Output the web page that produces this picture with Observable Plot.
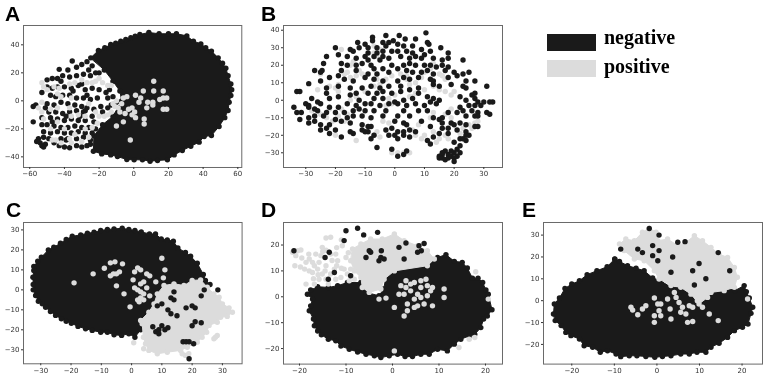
<!DOCTYPE html>
<html><head><meta charset="utf-8">
<script src="https://cdn.jsdelivr.net/npm/d3@7"></script>
<script src="https://cdn.jsdelivr.net/npm/@observablehq/plot@0.6"></script>
<style>
html,body{margin:0;padding:0;background:#fff}
#chart{position:relative;width:768px;height:380px;overflow:hidden;filter:blur(0.4px)}
#chart svg{position:absolute;background:none;overflow:visible}
.letter{position:absolute;font:bold 21px/1 "Liberation Sans",Arial,sans-serif;color:#000}
.legtext{position:absolute;font:bold 20px/1 "Liberation Serif","Times New Roman",serif;color:#000}
.swatch{position:absolute;left:547px;width:49px;height:17px}
</style></head><body><div id="chart"></div>
<script>
const negativeColor="#1a1a1a", positiveColor="#dcdcdc";
const legendLabels=["negative","positive"];
const panelLetters=["A","B","C","D","E"];

// ---------- A ----------
const aTicksX=[-60,-40,-20,0,20,40,60], aTicksY=[-40,-20,0,20,40];
const aBody=[[-24.8,30.7],[-20.4,36],[-16.7,37.9],[-13.3,40.2],[-10.4,41.2],[-7.5,42.6],[-4.6,43.8],[-1.7,45],[0.8,46.2],[3.5,47.4],[8.7,48.8],[14.6,47.9],[20,47.9],[24.6,47.9],[30.6,46.4],[34.4,42.6],[38.7,40.7],[41.5,37.9],[44.8,35.5],[48.7,30.7],[51.2,26.9],[53.1,23.3],[54.4,18],[56,12],[56.5,7.9],[56,3.8],[55,-1],[54.4,-6.9],[52.5,-12],[49.2,-18.3],[44.8,-24.8],[40.6,-25.5],[37.7,-29.5],[32.9,-32.4],[28,-35.5],[23.3,-38.6],[19.4,-42.1],[13.7,-42.6],[9.4,-43.1],[5,-42.1],[0.2,-42.1],[-4,-41.9],[-9.4,-39.8],[-13.3,-38.6],[-18.5,-37.9],[-23.3,-36],[-23,-25],[-18,-17],[-12,-11],[-7,0],[-8,7],[-12,14],[-17,22]];
const aNegative=[[-35.5,28.5],[-30,26],[-43,22.5],[-38,22],[-33,24],[-27,28],[-26,22],[-24,25],[-20,20],[-50,15],[-47,16],[-44,16],[-41,18],[-37,17],[-33,18],[-29,19],[-25,18],[-22,20],[-53,6],[-50,10],[-47,9],[-44,10],[-40,10],[-36,9],[-32,11],[-28,8],[-24,9],[-20,8],[-16,6],[-45,3],[-41,4],[-37,4],[-33,2],[-29,2],[-25,1],[-21,2],[-58,-4],[-56.5,-3],[-50,-2],[-46,-3],[-42,-1],[-38,-2],[-34,-3],[-30,-4],[-27,-5],[-23,-6],[-19,-4],[-13,-3],[-49,-8],[-45,-8],[-41,-9],[-37,-8],[-33,-7],[-29,-8],[-28,-7],[-24,-11],[-58,-15],[-53,-12],[-48,-12],[-44,-13],[-40,-14],[-36,-13],[-32,-14],[-28,-14],[-23,-15],[-53,-17],[-50,-17],[-46,-18],[-42,-19],[-38,-19],[-34,-18],[-30,-19],[-26,-19],[-22,-20],[-52,-22],[-48,-23],[-44,-22],[-40,-23],[-36,-23],[-32,-22],[-28,-23],[-24,-23],[-55,-27],[-52,-26],[-49,-27],[-42,-27],[-38,-27],[-33,-27],[-29,-26],[-25,-28],[-56,-29],[-54,-30],[-51,-31],[-53,-32],[-43,-32],[-40,-33],[-37,-33.5],[-33,-32],[-30,-33],[-27,-32],[-25,-31],[-52,-33],[-15,2],[-12,3],[-10,-1],[-15,-5],[-18,-8],[-14,8],[-48,4],[-51,-5],[-47,-15],[-39,-11],[-31,-11],[-35,7],[-27,4],[-30,12],[-42,14],[-39,-28],[-46,-30]];
const aPositive=[[-53,13],[-52,10],[-50,8],[-44,5],[-42,3],[-36,2],[-30,15],[-27,13],[-24,13],[-22,14],[-20,16],[-18,13],[-15,11],[-13,11],[-37,12],[-46,10],[-53,-1],[-55,-5],[-53,-8],[-52,-13],[-48,-6],[-44,-5],[-37,-5],[-36,-11],[-32,-10],[-28,-11],[-22,-8],[-20,-11],[-17,-11],[-15,-10],[-13,-8],[-11,-4],[-9,-5],[-7,-2],[-5,-9],[-3,-6],[-1,-5],[0.5,-8],[-1,-10],[1,-12],[-6,-15],[-10,-18],[-47,-28],[-45,-28],[-42,-30],[-36,-30],[-30,-29],[-26,-26],[-40,-20],[-34,-24],[-24,-19],[-21,-16],[-44,-15],[-26,-2],[11.5,14],[11.5,7],[17,7],[5.5,7],[4,2],[3,-1],[8,-1],[11,-1],[15,1],[17,2],[19,2],[11,-3],[17,-6],[19,-6],[7.5,-5],[6,-13],[6,-16.5],[-2,-28],[-6,2],[-4,3],[1,4],[-10,0],[-12,-2],[-8,-8],[-43,9],[-34,13],[-28,-20],[-37,-27],[-48,-20]];

// ---------- B ----------
const bTicksX=[-30,-20,-10,0,10,20,30], bTicksY=[-30,-20,-10,0,10,20,30,40];
const bBody=[];
const bPositive=[[-18,29],[-7,31],[-7,27],[-6,25],[-14,22],[-15,20],[-12,17],[-11,15],[-13,14],[-16,16],[-17,15],[-15,13],[-19,9],[-20,7],[-22,8],[-19,5],[-26,6],[-25,15],[-5,29],[-6,12],[-5,9],[-7,8],[-15,0],[-13,2],[-10,5],[-3,12],[-1,14],[2,15],[4,14],[4,12],[5,9],[7,10],[9,13],[10,16],[13,21],[12,18],[15,15],[16,14],[17,12],[13,8],[15,6],[17,5],[19,3],[20,5],[10,6],[7,4],[6,2],[5,2],[-2,1],[0,3],[-1,-2],[-3,-3],[-22,-5],[-25,-8],[-23,-10],[-21,-12],[-19,-9],[-18,-5],[-28,-6],[-17,-12],[-16,-8],[-20,-20],[-13,-23],[-7,-20],[-6,-18],[-5,-21],[-4,-12],[-2,-13],[6,-17],[7,-20],[9,-22],[8,-14],[13,-18],[10,-20],[12,-10],[13,-7],[17,-20],[18,-22],[15,-22],[19,-10],[17,-8],[19,-5],[25,-14],[27,-13],[26,-16],[28,-12],[23,-16],[-1,-30],[1,-30],[3,-30],[5,-30],[22,-19],[14,-24]];
const bNegative=[[10.5,38.5],[-7.5,36],[-7.5,34],[-3,37],[1.5,37],[-12.5,33],[3.5,35],[7,35],[-0.5,34],[-4,33],[-2,33],[11,33],[11.5,32],[-20,30],[-15,29],[-10,32],[-9,30],[-6,30],[-3,31],[1,32],[3,31],[6,31],[15.5,30],[-14,28],[-12,30],[-19,26],[-9,27],[-6,27],[-4,28],[-1,28],[1,28],[4,28],[6,27],[9,29],[12,28],[10,26],[18,27],[-10,25],[-7,25],[-4,25],[-23,25],[-16,25],[-13,24],[-9,23],[-5,23],[-2,24],[2,25],[5,24],[7,25],[9,24],[13,24],[16,23],[18,24],[23,23],[-24,21],[-18,21],[-16,20],[-13,20],[-11,21],[-8,20],[-7,18],[-4,18],[-1,20],[3,20],[5,21],[7,20],[10,20],[12,20],[14,19],[16,20],[18,19],[-27,17],[-25,16],[-24.5,17],[-18,17],[-13,17],[-9,15],[-6,15],[-2,16],[1,18],[4,17],[6,16],[9,16],[11,17],[13,15],[17,17],[20,16],[23,15],[25,16],[-29,9.5],[-25,11],[-22,13],[-19,14],[-17,12],[-14,11],[-10,13],[-7,12],[-4,11],[1,11],[3,13],[5,12],[8,13],[12,12],[13,11],[18,13],[21,14],[24,11],[-23,7],[-19,8],[-15,7],[-11,7],[-8,8],[-5,7],[-2,8],[2,8],[5,6],[8,7],[13,9],[15,8],[19,9],[27,11],[-33,5],[-32,5],[-23,4],[-13,4],[-9,4],[-6,4],[-4,5],[-1,4],[2,5],[8,4],[23,8],[31,8],[24,7],[-30,-2],[-29,-3],[-28,1],[-26,-1],[-22,1],[-19,2],[-15,3],[-12,0],[-7,1],[-4,1],[0,-1],[3,0],[6,1],[11,2],[13,1],[15,0],[22,2],[26,3],[27,4],[27,1],[24,0],[28,-1],[33,-1],[32,-1],[30,-1],[-34,-4],[-29,-4],[-27,-5],[-25,-2],[-22,-4],[-19,-4],[-16,-2],[-13,-3],[-10,-2],[-8,-2],[-5,-3],[-2,-2],[1,-2],[4,-3],[7,-2],[10,-3],[12,-1],[14,-2],[22,-4],[25,-3],[27,-3],[29,-3],[-33,-7],[-31.5,-7],[-26,-6],[-23,-7],[-20,-7],[-17,-7],[-14,-6],[-12,-5],[-10,-6],[-7,-6],[-3,-6],[3,-6],[8,-6],[11,-6],[18,-7],[21,-7],[23,-6],[26,-6],[28,-7],[31,-7],[32,-8],[-32,-11],[-29,-10],[-27,-9],[-24,-9],[-20,-11],[-16,-10],[-14,-9],[-11,-9],[-8,-10],[-4,-9],[1,-9],[5,-9],[13,-10],[16,-10],[15,-11],[24,-9],[27,-9],[28,-9],[-29,-13],[-27,-12],[-25,-14],[-22,-14],[-18,-12],[-15,-13],[-11,-14],[-9,-15],[-8,-15],[0,-12],[3,-13],[4,-14],[9,-12],[16,-13],[19,-13],[22,-13],[24,-14],[28,-15],[18,-16],[20,-14],[-25,-17],[-23,-16],[-22,-19],[-20,-17],[-15,-18],[-11,-17],[-9,-18],[-3,-17],[-1,-16],[1,-18],[3,-18],[5,-17],[7,-18],[12,-15],[16,-16],[21,-17],[24,-18],[25,-20],[-18,-21],[-14,-19],[-10,-18],[-2,-20],[0,-20],[1,-22],[3,-20],[5,-21],[13,-21],[15,-19],[18,-19],[24,-20],[27,-15],[24,-23],[-6,-27],[-8,-22],[-7,-20],[12,-25],[11,-23],[20,-24],[22,-22],[23,-22],[-1,-28],[1,-32],[3,-31],[4,-29],[15,-32],[15,-33],[16,-31],[16,-33],[17,-34],[18,-31],[18,-33],[19,-32],[20,-30],[20,-33],[20,-35],[21,-28],[22,-30],[17,-29],[19,-29],[22,-26],[16,-30],[21,-32]];

// ---------- C ----------
const cTicksX=[-30,-20,-10,0,10,20,30], cTicksY=[-30,-20,-10,0,10,20,30];
const cBody=[[-32.3,11.7],[-31,14.3],[-29.8,16.3],[-27.5,20],[-25.7,21.3],[-23.5,23.3],[-21.6,25.2],[-19.6,26.8],[-16.8,27.5],[-14.6,28.3],[-12.4,28.8],[-10.2,29.7],[-8,30.2],[-5.8,30.5],[-3.1,30.8],[-0.9,30.2],[1.1,29.7],[3.2,29],[5.9,28],[7.9,28],[9.8,25.5],[11.8,25],[13.8,24.3],[15.3,21],[17.8,18.7],[19.5,16.8],[21.7,13.3],[23.7,7.7],[24.4,4.7],[25.9,2.7],[8,-15],[3,-20],[1.1,-23.7],[-0.9,-22],[-3.3,-22.8],[-5.8,-22.5],[-8,-21.2],[-10.2,-21.2],[-13,-20.3],[-15.2,-19.5],[-17.7,-18.3],[-19.9,-16.7],[-21.6,-15.7],[-23.2,-14.5],[-25.1,-12.8],[-26.8,-10.8],[-28.4,-8.7],[-29.5,-7],[-30.8,-5.7],[-31.7,-2.8],[-32.5,0],[-32.5,2.7],[-32.6,6.3],[-32.3,9.7]];
const cBlob=[[20,4.7],[22.8,5],[25,1.3],[27.2,-2],[28.9,-3.7],[30,-7],[32.2,-9],[33.3,-11.2],[31.6,-13.3],[29.4,-13.7],[28.3,-16.2],[25.6,-17.8],[24.8,-21.2],[23.3,-23.7],[21.7,-26.2],[18.4,-28.7],[16.2,-30.3],[11.8,-31.2],[8.5,-32],[5.7,-30.3],[4.6,-27],[3.9,-23.7],[3.5,-17],[3,-15.3],[5.7,-11.2],[7.4,-7],[8.5,-2],[10.7,2.2],[14,3],[17.3,2.2]];
const cPositive=[[27.7,-23.7],[27.2,-24.5],[28.3,-22.8],[16.7,-32],[17.8,-32.8],[18.9,-32],[4,-29.5],[0.7,-26.5],[-19,3.5],[-12.7,8],[-9,10.8],[-7,13.5],[-5.5,14],[-3,13],[-7,7],[-5,8],[-4,9],[-6,8],[-5,2],[-2.5,-2],[1,9],[0.5,5],[2,11],[3,10],[5,8],[6,7],[10,15.8],[11,10],[10.5,6],[1,1],[2,0],[3,-1],[4,-2],[5,1],[2,-5],[2.5,-6],[3,-4],[-0.5,-8.5],[4,-5],[6,-3],[3,3],[4,4],[8,4]];
const cNegative=[[28.5,0],[7,-18.5],[8,-21],[9,-20],[10,-18],[11,-20],[9,-22],[12,-19],[17,-26],[18,-26],[19,-26],[20.5,-27],[20,-18],[23,-16.5],[21,-16],[21,-9],[20,-8],[18,-9],[14,-5],[12,-10],[13,-12],[15,-13],[10,-7],[8.5,-8],[13,-4],[14,-1],[19,-34.5],[23,-3],[24,0]];

// ---------- D ----------
const dTicksX=[-20,-10,0,10,20], dTicksY=[-20,-10,0,10,20];
const dBody=[[-18.3,1],[-17.6,2.6],[-16.1,3.9],[-13.8,3.6],[-11.8,4.3],[-9.7,5.5],[-6.8,5.5],[-5.7,1.7],[-2.9,0.4],[-1.9,3],[-1.4,7.5],[0.4,10],[3.9,11.4],[7.5,12],[9.7,15.2],[11.5,16.3],[13.3,13.7],[15,13.3],[16.1,11.1],[17.2,7.2],[18.4,7.2],[19.4,5.5],[20.1,2.6],[20.6,1],[21.4,-5],[20.4,-7.4],[19.6,-8.6],[19,-11.9],[17.7,-14.5],[16.5,-15.1],[14.7,-16.4],[13.3,-18.3],[11.8,-20.9],[9.7,-20.3],[7.9,-22.2],[6.1,-22.2],[4.3,-23.1],[2.7,-23.1],[1.1,-22.2],[-0.7,-22.8],[-2.5,-23.5],[-3.9,-22.8],[-5.7,-22.2],[-7.5,-21.3],[-9.3,-20.3],[-11.1,-19],[-12.2,-17],[-13.8,-16.4],[-15.3,-14.7],[-16.1,-13.2],[-16.8,-11.2],[-17,-8.6],[-17.9,-5.4],[-17.6,-3.5],[-17.2,-0.9]];
const dBlob=[[-8.6,18.5],[-6.8,20.4],[-4.7,22.3],[-2.2,22.3],[0.4,24.3],[2.5,21.7],[5.4,19.7],[7.5,17.8],[9,14.6],[7.5,12],[0.4,10],[-1.8,6.8],[-2.5,3],[-5,1.7],[-6.5,3.6],[-6.8,7.5],[-8.2,10],[-9,13.9]];
const dPositive=[[-21.5,17.2],[-20.4,17.8],[-19.7,18.1],[-20.8,15.9],[-21,12],[-18.6,13.3],[-18.9,10.7],[-17.9,14.6],[-17.2,13.3],[-17.9,10],[-16.8,12],[-17.2,9.4],[-18.6,4.9],[-16.8,4.9],[-15.8,6.8],[-15.1,8.8],[-16.1,10.7],[-15.8,13.3],[-16.5,16.5],[-15.1,19.1],[-14.3,22.7],[-13.3,23],[-14.3,18],[-13.3,16.5],[-12.2,16.5],[-11.8,13.9],[-10.8,19.7],[-10,15.2],[-9.7,8.8],[-11.1,7.5],[-12.5,10.7],[-13.3,8.8],[-14.3,12],[-15.4,15.9],[-9,10.7],[-10.4,10.7],[-8.2,6.8],[-9.3,6.2],[-12.2,6.8],[-14.3,6.8],[-13.8,4.9],[14.3,-19.6],[17.7,-15.7],[16.5,-16.4],[17.9,9.7],[20.6,-0.9],[0.4,-20.9],[2.9,6.2],[3.9,4.9],[1.8,4.3],[2.9,3.6],[4.7,5.5],[6.1,6.2],[7.2,6.8],[7.5,4.3],[8.6,3.6],[6.1,3.6],[3.9,2.3],[2.5,1],[1.4,1],[11.1,3],[11.1,-0.3],[8.6,-3.5],[5.4,-3.5],[4.7,-4.1],[3.2,-2.8],[3.2,-5.4],[2.5,-7.4],[0.4,-4.1],[-1.4,-0.5],[-2.9,-0.9],[6.1,-0.3],[7.5,0.4],[6.8,-2.8],[5.4,1],[4.7,-0.9],[8.2,2.3],[-19.5,15],[-18,16.5],[-19.8,11.5],[-16,8.5],[-13,14],[-12,12],[-11,11],[-15,17.5],[-12,19],[-11,22],[-9.5,17],[-17,7],[-14.5,10]];
const dNegative=[[-10,25.5],[-7.5,26.5],[-6.2,23.9],[-21.2,17.8],[-14.5,15.2],[-5.7,15.2],[-4.7,17.2],[-3.2,24.9],[-2.4,17.8],[-2.5,15.2],[-1.8,14.6],[-2.9,13.9],[2.9,20.8],[5.7,19.7],[6.8,20.6],[5.4,17.2],[6.2,17.8],[1.4,19.1],[2.5,14.6],[-12.5,9.4],[-13.6,17.2],[-10.4,21.7],[-13.8,6.8],[-9,8.1],[-5,17.8]];

// ---------- E ----------
const eTicksX=[-20,-10,0,10,20], eTicksY=[-20,-10,0,10,20,30];
const eBody=[[-24.3,-6.1],[-24.1,-1.5],[-22.9,1.2],[-21.6,5.6],[-20,7.6],[-18.2,9.1],[-16.4,11.9],[-14.1,13.7],[-11.7,15.5],[-9.9,19.1],[-8.8,18],[-6.9,16],[-4.9,14.9],[-3,13.7],[-1,10.4],[0.9,9.1],[3.3,6.1],[5.6,6.1],[8,3],[11.9,1.5],[13.1,3.8],[16.6,5.8],[18.3,4.6],[20.5,6.9],[21,4.1],[21.7,1.2],[22.5,-3],[22.1,-5.8],[21.4,-10.7],[20.1,-12.2],[18.2,-13.7],[16.6,-16.8],[14.6,-19.5],[12.7,-21.3],[11.5,-23.6],[9.4,-23.6],[7.6,-24.4],[5.6,-24.4],[3.3,-25.2],[1.3,-25.5],[-0.5,-25.9],[-2.6,-25.5],[-4.7,-25.2],[-6.5,-25.2],[-8.5,-25.6],[-9.6,-24.4],[-11.6,-22.9],[-13.3,-23.6],[-15.1,-21.3],[-17.1,-20.6],[-18.2,-17.5],[-20.2,-16],[-21.4,-14.5],[-22.5,-11.4],[-23.9,-9.1]];
const eBlob=[[-8.8,25.9],[-7.3,28.2],[-5.3,27.4],[-3.4,31.3],[-1.8,33.2],[-0.2,31.3],[0.2,27.4],[2.5,28.2],[4.9,25.2],[6.8,26.7],[8.8,29.7],[10.7,27.4],[12.7,24.4],[14.6,21.3],[16.6,19.8],[18.2,15.2],[18.9,10.7],[18.2,6.1],[15.8,4.6],[12.7,3.8],[11.9,1.5],[9.9,-1.5],[8,3],[5.6,6.1],[3.3,6.9],[0.5,9.9],[-0.6,13.7],[-3,18.3],[-5.3,19.1],[-7.7,22.9]];
const ePositive=[[-6.1,-3],[-5.7,-4.3],[-4.5,-6.4],[-3.4,-3.8],[-2.6,-2.3],[-0.6,1.2],[0.2,-1.5],[0.9,-1.5],[0.5,-4.6],[-0.6,-6.9],[-0.6,-9.9],[0.9,-6.9],[3.1,-3.8],[3.3,-8.4],[2.5,0.8],[4.1,3.8],[4.5,1.5],[5.2,-0.8],[5.6,-5.3],[6.8,-6.1],[8.4,-3],[10.7,-3],[12.3,-6.1],[7.2,-9.9],[8.4,-9.5],[14.4,-9.1],[21.3,0.8],[6,-3],[7.6,-2.3],[9.5,0]];
const eNegative=[[-1.8,33],[0.5,30],[3.7,20],[4.9,26.7],[6.6,27],[14.4,22],[17.1,13.7],[8.4,13.7],[11.5,10],[8.8,7.2],[3.3,13],[0.5,22.9],[-1,25.2],[-1,20.6],[-3.4,22],[-4.5,23.6],[0.2,18.3],[-9.9,19],[-8.5,23.6],[9.9,17]];

// ---------- layout ----------
const frames=[
 {left:22.7,top:25,right:241,bottom:167,xd:[-63.6,62.3],yd:[-47.6,53.8]},
 {left:282.7,top:25,right:501.7,bottom:167,xd:[-37.5,36.3],yd:[-38.4,42.7]},
 {left:22.7,top:222,right:241.3,bottom:363.3,xd:[-35.7,36.5],yd:[-37,33.7]},
 {left:282.7,top:221.7,right:501.7,bottom:363.3,xd:[-23.44,23.66],yd:[-26,28.7]},
 {left:542.7,top:221.7,right:761.7,bottom:363.3,xd:[-26.64,24.8],yd:[-29,35.76]}
];
const series=[
 {tx:aTicksX,ty:aTicksY,body:aBody,blob:[],pos:aPositive,neg:[],under:aNegative},
 {tx:bTicksX,ty:bTicksY,body:bBody,blob:[],pos:bPositive,neg:bNegative,under:[]},
 {tx:cTicksX,ty:cTicksY,body:cBody,blob:cBlob,pos:cPositive,neg:cNegative,under:[]},
 {tx:dTicksX,ty:dTicksY,body:dBody,blob:dBlob,pos:dPositive,neg:dNegative,under:[]},
 {tx:eTicksX,ty:eTicksY,body:eBody,blob:eBlob,pos:ePositive,neg:eNegative,under:[]}
];
const letterPos=[[5,20.7],[261,20.3],[6,216],[261,216.7],[522,216.7]];
const root=document.getElementById("chart");
const px=d=>d[0], py=d=>d[1], R=2.7;
const M={l:26,r:6,t:4,b:16};

frames.forEach((f,i)=>{
  const s=series[i];
  const marks=[];
  const poly=(a,c)=>a.length?[Plot.line(a,{x:px,y:py,curve:"linear-closed",fill:c,stroke:c,strokeWidth:1}),Plot.dot(a,{x:px,y:py,r:R,fill:c})]:[];
  marks.push(...poly(s.body,negativeColor));
  marks.push(Plot.dot(s.under,{x:px,y:py,r:R,fill:negativeColor}));
  marks.push(...poly(s.blob,positiveColor));
  marks.push(Plot.dot(s.pos,{x:px,y:py,r:R,fill:positiveColor}));
  marks.push(Plot.dot(s.neg,{x:px,y:py,r:R,fill:negativeColor}));
  marks.push(Plot.frame({stroke:"#6a6a6a",strokeWidth:1}));
  marks.push(Plot.axisX(s.tx,{tickSize:2,tickPadding:2,fontSize:7,fill:"#333",stroke:"#333",strokeOpacity:1,label:null}));
  marks.push(Plot.axisY(s.ty,{tickSize:2,tickPadding:2,fontSize:7,fill:"#333",stroke:"#333",strokeOpacity:1,label:null}));
  const svg=Plot.plot({
    width:f.right-f.left+M.l+M.r, height:f.bottom-f.top+M.t+M.b,
    marginLeft:M.l,marginRight:M.r,marginTop:M.t,marginBottom:M.b,
    style:{fontFamily:"'DejaVu Sans',sans-serif",background:"transparent"},
    x:{domain:f.xd,label:null}, y:{domain:f.yd,label:null},
    marks
  });
  svg.style.left=(f.left-M.l)+"px"; svg.style.top=(f.top-M.t)+"px";
  root.appendChild(svg);
  const l=document.createElement("div");
  l.className="letter"; l.textContent=panelLetters[i];
  l.style.left=letterPos[i][0]+"px"; l.style.top=(letterPos[i][1]-17.4)+"px";
  root.appendChild(l);
});

[[negativeColor,34,44],[positiveColor,60,73]].forEach(([c,top,base],i)=>{
  const sw=document.createElement("div"); sw.className="swatch";
  sw.style.top=top+"px"; sw.style.background=c; root.appendChild(sw);
  const t=document.createElement("div"); t.className="legtext"; t.textContent=legendLabels[i];
  t.style.left="604px"; t.style.top=(base-16.75)+"px"; root.appendChild(t);
});
</script></body></html>
